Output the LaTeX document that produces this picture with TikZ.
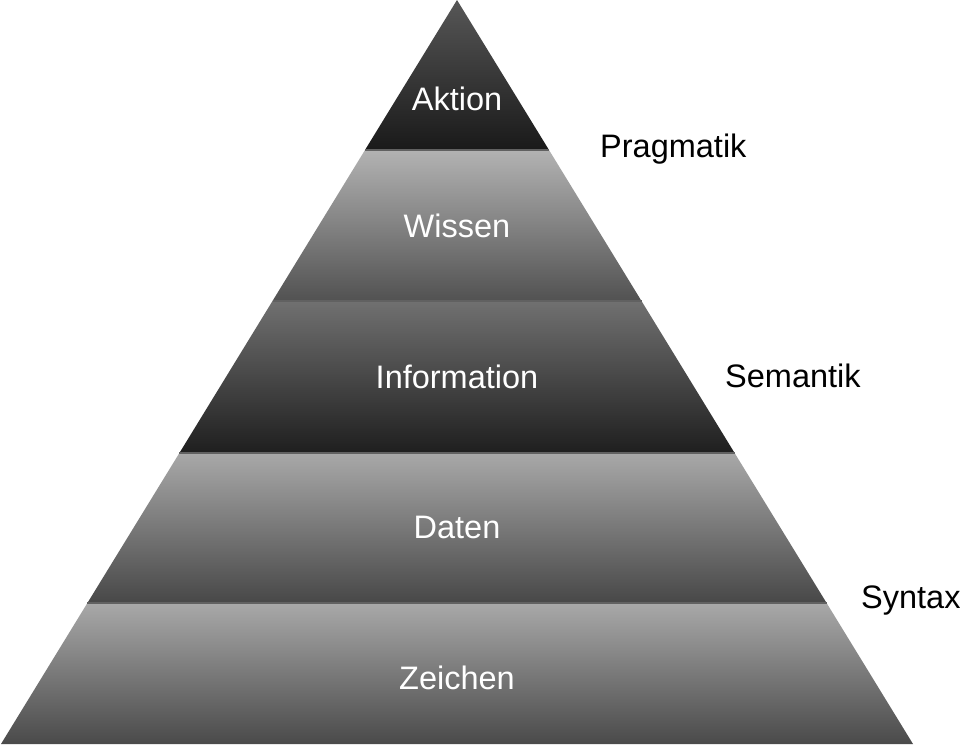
\documentclass[tikz,border=0pt]{standalone}
\usepackage{fontspec}
\setmainfont{Liberation Sans}
\begin{document}
\begin{tikzpicture}[x=1pt,y=-1pt,
  lvl/.style={font=\fontsize{32.5}{36}\selectfont, text=white, inner sep=0pt},
  side/.style={font=\fontsize{32.5}{36}\selectfont, text=black, inner sep=0pt, anchor=west},
  sep/.style={draw=black!62, line width=1.2pt}]
\useasboundingbox (0,0) rectangle (960,744);
% band edges
\coordinate (apex) at (457,0);
\coordinate (l1) at (365,150); \coordinate (r1) at (549,150);
\coordinate (l2) at (272.5,301); \coordinate (r2) at (641.5,301);
\coordinate (l3) at (179.4,453); \coordinate (r3) at (734.6,453);
\coordinate (l4) at (87.4,603); \coordinate (r4) at (826.6,603);
\coordinate (l5) at (1,744); \coordinate (r5) at (913,744);
\shade[top color=black!66, bottom color=black!90] (apex) -- (r1) -- (l1) -- cycle;
\shade[top color=black!30, bottom color=black!68] (l1) -- (r1) -- (r2) -- (l2) -- cycle;
\shade[top color=black!56, bottom color=black!88] (l2) -- (r2) -- (r3) -- (l3) -- cycle;
\shade[top color=black!34, bottom color=black!72] (l3) -- (r3) -- (r4) -- (l4) -- cycle;
\shade[top color=black!34, bottom color=black!71] (l4) -- (r4) -- (r5) -- (l5) -- cycle;
\draw[sep] (l1) -- (r1);
\draw[sep] (l2) -- (r2);
\draw[sep] (l3) -- (r3);
\draw[sep] (l4) -- (r4);
% labels
\node[lvl] (aktion) at (457,99) {Aktion};
\node[lvl] (wissen) at (457,226) {Wissen};
\node[lvl] (information) at (457,377) {Information};
\node[lvl] (daten) at (457,527) {Daten};
\node[lvl] (zeichen) at (457,678) {Zeichen};
\node[side] (pragmatik) at (600,149) {Pragmatik};
\node[side] (semantik) at (725,376) {Semantik};
\node[side] (syntax) at (861,601) {Syntax};
\end{tikzpicture}
\end{document}
